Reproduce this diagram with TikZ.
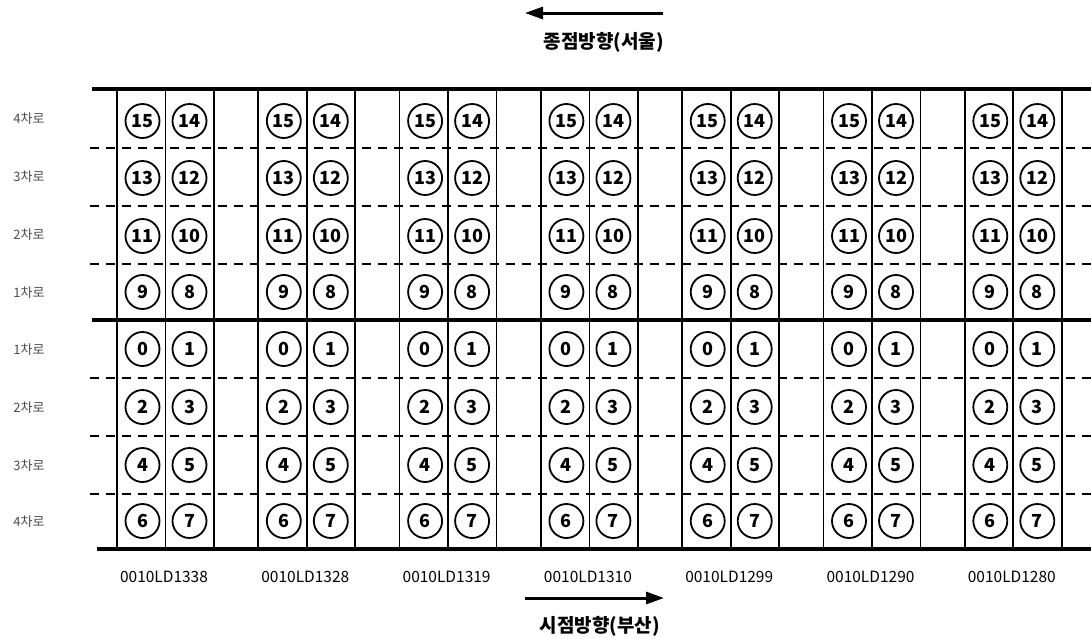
\documentclass[tikz,border=0pt]{standalone}
\usepackage{fontspec}
\setmainfont{Noto Sans CJK KR}
\usetikzlibrary{arrows.meta}
\tikzset{
  road/.style={line width=3.4pt},
  lanesep/.style={line width=1.7pt, dash pattern=on 9pt off 7pt},
  cellline/.style={line width=1.7pt},
  det/.style={draw, circle, line width=1.8pt, minimum size=34pt, inner sep=0pt, font=\fontsize{18}{18}\selectfont\bfseries},
  lanelabel/.style={font=\fontsize{13}{13}\selectfont, text=black!70},
  stationlabel/.style={font=\fontsize{15.5}{15.5}\selectfont},
  dirlabel/.style={font=\fontsize{19}{19}\selectfont\bfseries},
  dir/.style={-{Triangle[length=18pt,width=12pt]}, line width=3pt}
}

\begin{document}
\begin{tikzpicture}[x=1pt, y=-1pt]
  \useasboundingbox (0,0) rectangle (1091,638);

  % ---- road edges and lane separators ----
  \draw[road] (92,89) -- (1091,89);
  \draw[road] (92,320) -- (1091,320);
  \draw[road] (97,549) -- (1091,549);
  \foreach \y in {148,206,264,378,436,494}
    \draw[lanesep] (90,\y) -- (1091,\y);

  % ---- lane labels ----
  \foreach \y/\n [count=\k] in {119/4,177/3,235/2,293/1,350/1,408/2,466/3,522/4}
    \node[lanelabel] (lane\k) at (29,\y) {\n{}차로};

  % ---- detector stations ----
  \foreach \id [count=\i from 0] in {1338,1328,1319,1310,1299,1290,1280} {
    \pgfmathsetmacro{\gx}{117+141.3*\i}
    \draw[cellline] (\gx,89) -- (\gx,549);
    \draw[cellline] (\gx+48.5,89) -- (\gx+48.5,549);
    \draw[cellline] (\gx+97,89) -- (\gx+97,549);
    % toward Seoul
    \foreach \y [count=\j from 0] in {121,178,236,292} {
      \pgfmathtruncatemacro{\nl}{15-2*\j}
      \pgfmathtruncatemacro{\nr}{14-2*\j}
      \node[det] (d\i-\nl) at (\gx+25.5,\y) {\nl};
      \node[det] (d\i-\nr) at (\gx+72.5,\y) {\nr};
    }
    % toward Busan
    \foreach \y [count=\j from 0] in {349,407,465,521} {
      \pgfmathtruncatemacro{\nl}{2*\j}
      \pgfmathtruncatemacro{\nr}{2*\j+1}
      \node[det] (d\i-\nl) at (\gx+25.5,\y) {\nl};
      \node[det] (d\i-\nr) at (\gx+72.5,\y) {\nr};
    }
    \node[stationlabel] (st\i) at (\gx+47,577) {0010LD\id};
  }

  % ---- directions ----
  \coordinate (seoulA) at (663,13);
  \coordinate (seoulB) at (525,13);
  \draw[dir] (seoulA) -- (seoulB);
  \node[dirlabel] (seoul) at (604,42) {종점방향(서울)};
  \coordinate (busanA) at (525,598);
  \coordinate (busanB) at (664,598);
  \draw[dir] (busanA) -- (busanB);
  \node[dirlabel] (busan) at (600,626) {시점방향(부산)};
\end{tikzpicture}
\end{document}
